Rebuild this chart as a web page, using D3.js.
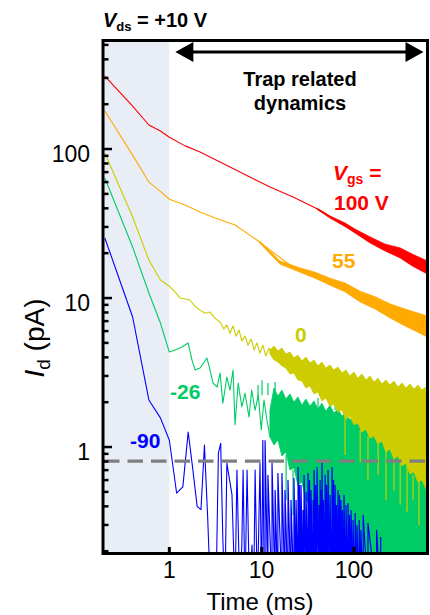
<!DOCTYPE html>
<html>
<head>
<meta charset="utf-8">
<script src="https://cdn.jsdelivr.net/npm/d3@7"></script>
<style>
  body { margin: 0; background: #fff; }
  svg { display: block; }
</style>
</head>
<body>
<div class="decay_chart"></div>
<script>
// axis limits (ms, pA) and ticks
let xLimits = [0.191, 627]
let yLimits = [0.193, 535]
let xTicks = [1, 10, 100]
let yTicks = [1, 10, 100]
let trapStart = 1        // ms, start of the "trap related" part
let floorLevel = 0.805   // pA, dashed line
let offScale = 0.1       // pA, below the bottom axis (clipped)

// Vgs = 100 V
let red_t = [0.2, 0.4, 0.6, 0.8, 1.0, 1.48, 2.15, 4.54, 12.3, 21.9, 43, 70.8, 103, 150, 218, 317, 430, 592, 620]
let red_I = [309, 194, 145, 132, 120, 105, 95.5, 75.7, 55.6, 47.6, 38.9, 31.9, 28.2, 24.5, 22.0, 20.0, 18.0, 16.1, 15.8]
let red_band_t = [40, 55.1, 80, 103, 150, 218, 317, 430, 627]
let red_band_hi = [39.9, 35.5, 31.9, 29.0, 25.7, 23.0, 21.7, 19.7, 17.7]
let red_band_lo = [39.3, 34.4, 30.2, 27.3, 23.4, 20.7, 18.6, 16.4, 14.5]

// Vgs = 55 V
let orange_t = [0.2, 0.4, 0.6, 0.8, 1.0, 1.48, 2.15, 3.13, 5.15, 8.9, 12.3, 21.9, 33.5, 52, 76, 110, 165, 240, 359, 592, 620]
let orange_I = [180, 91, 60, 52, 46, 42.1, 37.8, 34.4, 30.9, 24.5, 21.0, 16.1, 14.5, 13.2, 11.7, 10.3, 9.1, 8.18, 7.33, 6.49, 6.4]
let orange_band_t = [9.6, 15.8, 26.1, 37.9, 55.1, 80.2, 117, 170, 247, 359, 490, 627]
let orange_band_hi = [24.0, 17.7, 15.9, 14.9, 13.6, 12.6, 11.1, 10.2, 9.12, 8.44, 7.93, 7.57]
let orange_band_lo = [23.3, 16.9, 14.9, 13.6, 12.2, 11.0, 9.40, 8.44, 7.34, 6.49, 5.91, 5.47]

// Vgs = 0 V
let yellow_t = [0.2, 0.4, 0.6, 0.8, 1.0, 1.15, 1.31, 1.48, 1.67, 1.9, 2.15, 2.44, 2.76, 3.13, 3.54, 3.9, 4.2, 4.54, 4.9, 5.3, 5.7, 6.1, 6.6, 7.1, 7.7, 8.3, 8.9, 9.6, 10.3, 11.1, 12.0, 12.9]
let yellow_I = [94, 35, 18, 13.2, 12.0, 11.0, 10.0, 9.85, 9.7, 8.8, 8.3, 7.9, 8.05, 7.3, 6.9, 6.2, 6.6, 5.8, 6.5, 5.55, 6.1, 5.15, 5.55, 4.83, 5.3, 4.48, 5.0, 4.27, 4.83, 4.08, 4.6, 4.3]
// noisy tail envelope, shared times for the 0 V and -26 V traces
let band_t = [12.3, 13.6, 15.0, 16.6, 18.3, 20.3, 22.4, 24.7, 27.3, 30.2, 33.4, 36.9, 40.7, 45.0, 49.7, 54.9, 60.7, 67.1, 74.1, 81.9,
              90.5, 100, 110, 122, 135, 149, 165, 182, 201, 222, 245, 271, 300, 331, 366, 404, 447, 494, 545, 627]
let yellow_band_hi = [4.48, 4.76, 4.41, 4.62, 4.21, 4.34, 3.96, 4.14, 3.78, 4.02, 3.66, 3.84, 3.50, 3.72, 3.39, 3.55, 3.29, 3.44, 3.14, 3.29,
                      3.00, 3.19, 2.90, 3.09, 2.82, 3.00, 2.73, 2.90, 2.65, 2.82, 2.61, 2.77, 2.53, 2.69, 2.49, 2.65, 2.45, 2.61, 2.41, 2.57]
let yellow_band_lo = [4.21, 3.84, 3.72, 3.50, 3.39, 3.09, 3.14, 2.82, 2.77, 2.49, 2.57, 2.27, 2.34, 2.04, 2.13, 1.88, 1.94, 1.72, 1.77, 1.54,
                      1.61, 1.41, 1.45, 1.26, 1.32, 1.149, 1.185, 1.047, 1.097, 0.926, 0.970, 0.831, 0.870, 0.746, 0.781, 0.659, 0.680, 0.582, 0.600, 0.499]
let yellow_spike_t = [80.2, 117, 142, 183, 223, 272, 317, 376, 437, 507]
let yellow_spike_a = [1.64, 1.30, 1.18, 1.11, 1.02, 0.88, 0.82, 0.76, 0.65, 0.60]
let yellow_spike_b = [0.884, 0.79, 0.60, 0.65, 0.44, 0.51, 0.41, 0.366, 0.44, 0.30]

// Vgs = -26 V
let green_t = [0.2, 0.4, 0.6, 0.8, 1.0, 1.15, 1.31, 1.48, 1.6, 1.76, 1.9, 2.15, 2.55, 2.76, 2.97, 3.3, 3.54, 3.8, 4.2, 4.54, 4.9, 5.15, 5.57, 6.1, 6.6, 7.3, 7.8, 8.5, 9.2, 9.9, 10.6, 11.4, 12.3]
let green_I = [63.9, 22.0, 10.8, 6.8, 4.34, 4.48, 4.62, 4.84, 4.99, 3.83, 3.29, 3.39, 3.96, 3.29, 2.69, 2.53, 3.14, 1.97, 2.95, 2.41, 3.29, 1.41, 2.69, 1.86, 2.30, 1.59, 2.41, 1.77, 2.23, 1.30, 2.07, 1.52, 1.17]
let green_band_hi = [1.77, 2.49, 2.20, 2.41, 2.10, 2.27, 2.00, 2.17, 1.91, 2.10, 1.88, 2.04, 1.80, 1.97, 1.74, 1.91, 1.69, 1.80, 1.61, 1.72,
                     1.52, 1.59, 1.41, 1.47, 1.28, 1.34, 1.167, 1.22, 1.080, 1.114, 1.016, 1.047, 0.955, 0.985, 0.898, 0.926, 0.857, 0.884, 0.818, 0.844]
let green_band_lo = [1.167, 1.031, 1.114, 0.870, 0.926, 0.701, 0.723, 0.556, 0.582, 0.441, 0.408, 0.314, 0.334, 0.238, 0.253, 0.1, 0.1, 0.1, 0.1, 0.1,
                     0.1, 0.1, 0.1, 0.1, 0.1, 0.1, 0.1, 0.1, 0.1, 0.1, 0.1, 0.1, 0.1, 0.1, 0.1, 0.1, 0.1, 0.1, 0.1, 0.1]
let green_spike_t = [9.14, 10.1, 11.7, 14.0, 18.4, 21.9, 25.4, 29.5, 35.2, 40.8, 62.5]
let green_spike_a = [2.07, 2.23, 2.23, 2.34, 0.884, 0.701, 0.600, 0.476, 0.408, 1.83, 1.77]
let green_spike_b = [2.61, 2.81, 2.69, 2.73, 0.441, 0.350, 0.277, 0.220, 0.1, 2.13, 2.07]

// Vgs = -90 V
let blue_t = [0.2, 0.4, 0.6, 0.8, 1.0, 1.2, 1.4, 1.6, 1.8, 2.0, 2.2, 2.4, 2.6, 2.8, 3.2, 3.4, 3.6, 3.8, 4.0, 4.2, 4.77, 5.15, 5.4, 5.8, 6.1, 6.3, 6.6, 6.95, 7.4, 7.86, 8.2, 8.5, 9.0, 9.6, 10.0, 10.3, 10.7]
let blue_I = [25.3, 7.46, 2.07, 1.57, 1.11, 0.49, 0.54, 1.26, 0.70, 0.40, 0.38, 1.03, 0.34, 0.1, 0.1, 0.91, 1.06, 0.24, 0.1, 0.78, 0.48, 0.1, 0.70, 0.1, 0.22, 0.70, 0.1, 0.70, 0.1, 0.22, 0.1, 0.70, 0.1, 0.78, 0.1, 1.11, 0.1]
let blue_spike_t = [10.9, 11.7, 12.96, 14.0, 15.0, 16.6, 17.9, 19.3, 20.8, 22.4, 23.6, 24.8, 25.7, 26.7, 28.1, 28.8, 30.3, 31.8, 33.0, 34.3,
                    36.1, 37.0, 38.4, 39.8, 41.9, 43.0, 44.0, 45.1, 46.8, 48.7, 50.5, 52.4, 55.1, 57.9, 60.1, 62.5, 64.8, 67.2, 69.8, 72.4,
                    75.2, 78.0, 82.1, 86.3, 89.6, 93.0, 97.8, 103, 108, 114, 119, 126, 142, 176, 195]
let blue_spike_peak = [1.11, 0.649, 0.781, 0.514, 0.669, 0.669, 0.514, 0.60, 0.441, 0.619, 0.441, 0.734, 0.556, 0.556, 0.378, 0.649, 0.499, 0.669, 0.600, 0.514,
                       0.441, 0.701, 0.556, 0.734, 0.408, 0.60, 0.514, 0.781, 0.441, 0.649, 0.556, 0.701, 0.476, 0.734, 0.600, 0.556, 0.408, 0.514, 0.476, 0.441,
                       0.378, 0.476, 0.408, 0.421, 0.350, 0.378, 0.324, 0.361, 0.300, 0.324, 0.277, 0.350, 0.309, 0.277, 0.249]

let width = 430
let height = 615
let plotLeft = 103, plotRight = 427.5, plotTop = 40.5, plotBottom = 553.5

let x = d3.scaleLog().domain(xLimits).range([plotLeft, plotRight])
let y = d3.scaleLog().domain(yLimits).range([plotBottom, plotTop])

let line = d3.line().x(d => x(d[0])).y(d => y(d[1]))
let band = d3.area().x(d => x(d[0])).y0(d => y(d[2])).y1(d => y(d[1]))

// draw order: green under yellow, blue on top
let series = [
    {color: '#ff0000', t: red_t, I: red_I, bt: red_band_t, hi: red_band_hi, lo: red_band_lo},
    {color: '#ffaa00', t: orange_t, I: orange_I, bt: orange_band_t, hi: orange_band_hi, lo: orange_band_lo},
    {color: '#00cc66', t: green_t, I: green_I, bt: band_t, hi: green_band_hi, lo: green_band_lo,
        st: green_spike_t, sa: green_spike_a, sb: green_spike_b},
    {color: '#cccc00', t: yellow_t, I: yellow_I, bt: band_t, hi: yellow_band_hi, lo: yellow_band_lo,
        st: yellow_spike_t, sa: yellow_spike_a, sb: yellow_spike_b},
    {color: '#0000ff', t: blue_t, I: blue_I}
]

const svg = d3.select(".decay_chart").append("svg")
    .attr("width", width)
    .attr("height", height)
    .attr("font-family", "'Liberation Sans', Arial, sans-serif")

svg.append("defs").append("clipPath").attr("id", "plot")
    .append("rect")
    .attr("x", plotLeft).attr("y", plotTop)
    .attr("width", plotRight - plotLeft).attr("height", plotBottom - plotTop)

// shaded early-time region
svg.append("rect")
    .attr("x", plotLeft).attr("y", plotTop)
    .attr("width", x(trapStart) - plotLeft).attr("height", plotBottom - plotTop)
    .attr("fill", "#e9edf6")

const plot = svg.append("g").attr("clip-path", "url(#plot)")

series.forEach(s => {
    const g = plot.append("g")
    g.append("path")
        .attr("d", line(d3.zip(s.t, s.I)))
        .attr("fill", "none")
        .attr("stroke", s.color)
        .attr("stroke-width", 1.1)
        .attr("stroke-linejoin", "round")
    if (s.bt) {
        g.append("path")
            .attr("d", band(d3.zip(s.bt, s.hi, s.lo)))
            .attr("fill", s.color)
            .attr("stroke", s.color)
            .attr("stroke-width", 0.8)
    }
    if (s.st) {
        g.selectAll("line")
            .data(d3.zip(s.st, s.sa, s.sb))
            .join("line")
            .attr("x1", d => x(d[0])).attr("x2", d => x(d[0]))
            .attr("y1", d => y(d[1])).attr("y2", d => y(d[2]))
            .attr("stroke", s.color)
            .attr("stroke-width", 1.2)
    }
})

// -90 V noise: each sample jumps up to its peak and falls back below the axis
plot.append("path")
    .attr("d", line(d3.zip(blue_spike_t, blue_spike_peak).flatMap(([t, p]) => [[t, offScale], [t, p]])))
    .attr("fill", "none")
    .attr("stroke", "#0000ff")
    .attr("stroke-width", 1.2)

// noise floor
svg.append("line")
    .attr("x1", plotLeft + 1).attr("x2", plotRight)
    .attr("y1", y(floorLevel)).attr("y2", y(floorLevel))
    .attr("stroke", "#7f7f7f")
    .attr("stroke-width", 3.3)
    .attr("stroke-dasharray", "15.5,8")

// frame
svg.append("rect")
    .attr("x", plotLeft).attr("y", plotTop)
    .attr("width", plotRight - plotLeft).attr("height", plotBottom - plotTop)
    .attr("fill", "none")
    .attr("stroke", "black")
    .attr("stroke-width", 3)

const isMajor = d => Math.abs(Math.log10(d) - Math.round(Math.log10(d))) < 1e-6

svg.append("g").selectAll("line")
    .data(y.ticks())
    .join("line")
    .attr("x1", plotLeft).attr("x2", d => plotLeft + (isMajor(d) ? 9 : 5.5))
    .attr("y1", d => y(d)).attr("y2", d => y(d))
    .attr("stroke", "black")
    .attr("stroke-width", 2.5)

svg.append("g").selectAll("line")
    .data(xTicks)
    .join("line")
    .attr("x1", d => x(d)).attr("x2", d => x(d))
    .attr("y1", plotBottom).attr("y2", plotBottom - 6.5)
    .attr("stroke", "black")
    .attr("stroke-width", 3)

svg.append("g")
    .attr("font-size", 23)
    .attr("text-anchor", "end")
    .selectAll("text")
    .data(yTicks)
    .join("text")
    .attr("x", 90)
    .attr("y", d => y(d) + 13)
    .text(d => d3.format("d")(d))

svg.append("g")
    .attr("font-size", 23)
    .attr("text-anchor", "middle")
    .selectAll("text")
    .data(xTicks)
    .join("text")
    .attr("x", d => x(d))
    .attr("y", 578)
    .text(d => d3.format("d")(d))

// axis titles
svg.append("text")
    .attr("x", 260).attr("y", 610)
    .attr("font-size", 24)
    .attr("text-anchor", "middle")
    .text("Time (ms)")

const ylab = svg.append("text")
    .attr("transform", "translate(44,338) rotate(-90)")
    .attr("font-size", 28)
    .attr("text-anchor", "middle")
ylab.append("tspan").attr("font-style", "italic").text("I")
ylab.append("tspan").attr("font-size", 19).attr("dy", 6).text("d")
ylab.append("tspan").attr("dy", -6).text(" (pA)")

// header
const title = svg.append("text")
    .attr("x", 103).attr("y", 27)
    .attr("font-size", 20)
    .attr("font-weight", "bold")
title.append("tspan").attr("font-style", "italic").text("V")
title.append("tspan").attr("font-size", 13).attr("dy", 4).text("ds")
title.append("tspan").attr("dy", -4).text(" = +10 V")

// trap region arrow
const ay = 52
const ax0 = x(trapStart) + 6, ax1 = plotRight - 4
svg.append("line")
    .attr("x1", ax0 + 10).attr("x2", ax1 - 10)
    .attr("y1", ay).attr("y2", ay)
    .attr("stroke", "black").attr("stroke-width", 3.2)
svg.append("path")
    .attr("d", `M${ax0},${ay} L${ax0 + 18},${ay - 10} L${ax0 + 18},${ay + 10} Z
                M${ax1},${ay} L${ax1 - 18},${ay - 10} L${ax1 - 18},${ay + 10} Z`)
    .attr("fill", "black")

svg.append("g")
    .attr("font-size", 20)
    .attr("font-weight", "bold")
    .attr("text-anchor", "middle")
    .selectAll("text")
    .data(["Trap related", "dynamics"])
    .join("text")
    .attr("x", 300)
    .attr("y", (d, i) => 86 + i * 24)
    .text(d => d)

// series labels
const lab = svg.append("g").attr("font-size", 21).attr("font-weight", "bold")
const vgs = lab.append("text").attr("x", 333).attr("y", 180).attr("fill", "#ff0000")
vgs.append("tspan").attr("font-style", "italic").text("V")
vgs.append("tspan").attr("font-size", 14).attr("dy", 4).text("gs")
vgs.append("tspan").attr("dy", -4).text(" =")
lab.append("text").attr("x", 334).attr("y", 210).attr("fill", "#ff0000").text("100 V")
lab.append("text").attr("x", 332).attr("y", 268).attr("fill", "#ffaa00").text("55")
lab.append("text").attr("x", 295).attr("y", 342).attr("fill", "#cccc00").text("0")
lab.append("text").attr("x", 170).attr("y", 399).attr("fill", "#00cc66").text("-26")
lab.append("text").attr("x", 130).attr("y", 448).attr("fill", "#0000ff").text("-90")
</script>
</body>
</html>
